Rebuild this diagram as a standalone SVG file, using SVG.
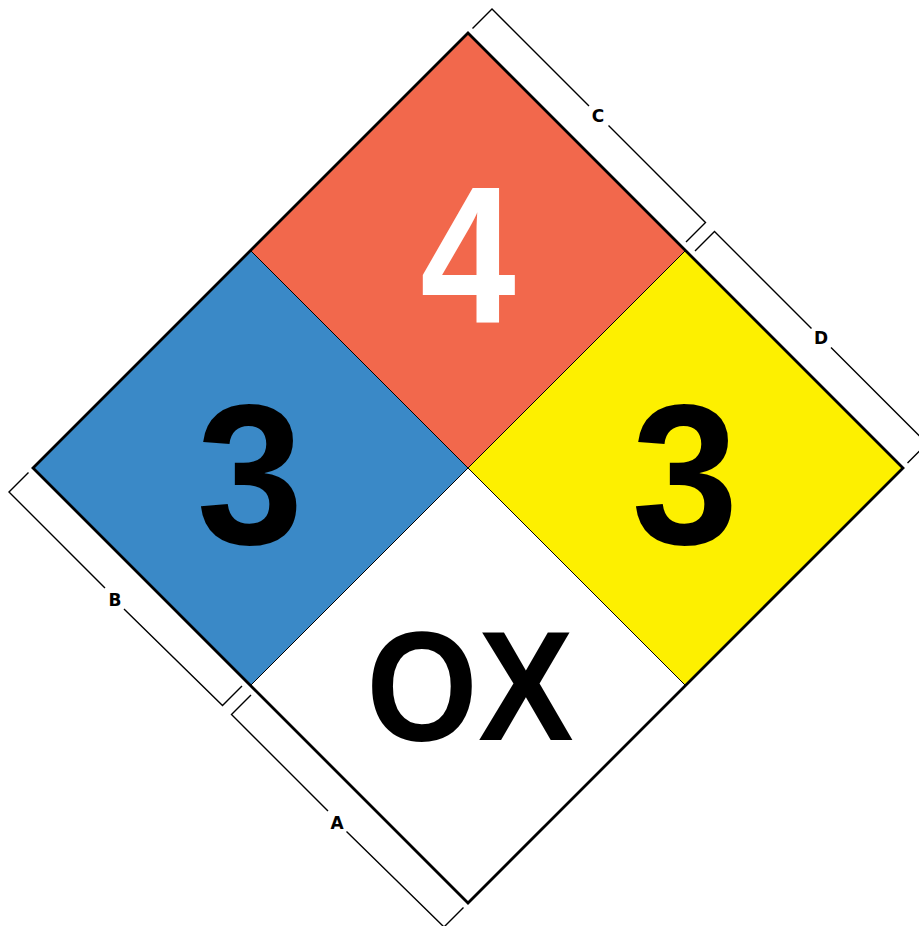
<svg xmlns="http://www.w3.org/2000/svg" width="919" height="926" viewBox="0 0 919 926">
<style>
.big{font-family:"Liberation Sans",Arial,sans-serif;font-weight:bold;text-anchor:middle}
.lbl{font-family:"DejaVu Sans",Verdana,sans-serif;font-weight:bold;font-size:17px;text-anchor:middle;fill:#000}
.br{fill:none;stroke:#000;stroke-width:1.4;stroke-linecap:square}
.div{fill:none;stroke:#000;stroke-width:1}
</style>
<rect width="919" height="926" fill="#fff"/>
<g id="flammability">
<polygon points="468,33 685.5,250.5 468,468 250.5,250.5" fill="#F2684C"/>
<text class="big" transform="translate(468,322) scale(0.88,1)" font-size="195" fill="#fff">4</text>
</g>
<g id="health">
<polygon points="250.5,250.5 468,468 250.5,685.5 33,468" fill="#3A89C7"/>
<text class="big" transform="translate(250,544) scale(0.96,1)" font-size="200" fill="#000">3</text>
</g>
<g id="instability">
<polygon points="685.5,250.5 903,468 685.5,685.5 468,468" fill="#FDF000"/>
<text class="big" transform="translate(685,544) scale(0.96,1)" font-size="200" fill="#000">3</text>
</g>
<g id="special">
<polygon points="468,468 685.5,685.5 468,903 250.5,685.5" fill="#fff"/>
<text class="big" transform="translate(470,740) scale(0.92,1)" font-size="156" fill="#000">OX</text>
</g>
<g id="outline">
<line class="div" x1="250.5" y1="250.5" x2="685.5" y2="685.5"/>
<line class="div" x1="685.5" y1="250.5" x2="250.5" y2="685.5"/>
<polygon points="468,33 903,468 468,903 33,468" fill="none" stroke="#000" stroke-width="2.8" stroke-linejoin="miter"/>
</g>
<g id="connectors">
<polyline class="br" points="473,28 492,9 588.5,105.5"/>
<polyline class="br" points="609,126 705.5,222.5 686.5,241.5"/>
<polyline class="br" points="695.5,250.5 714.5,231.5 811,328"/>
<polyline class="br" points="831.5,348 927,443.5 908,462.5"/>
<polyline class="br" points="28,473 9,492 104.5,587.5"/>
<polyline class="br" points="124.5,609.5 222.5,705.5 241.5,686.5"/>
<polyline class="br" points="250.5,695.5 231.5,714.5 327.5,810.5"/>
<polyline class="br" points="347,832 444,927 463,908"/>
</g>
<g id="labels">
<text class="lbl" x="598" y="122">C</text>
<text class="lbl" x="821" y="344">D</text>
<text class="lbl" x="115" y="606">B</text>
<text class="lbl" x="337" y="829">A</text>
</g>
</svg>
